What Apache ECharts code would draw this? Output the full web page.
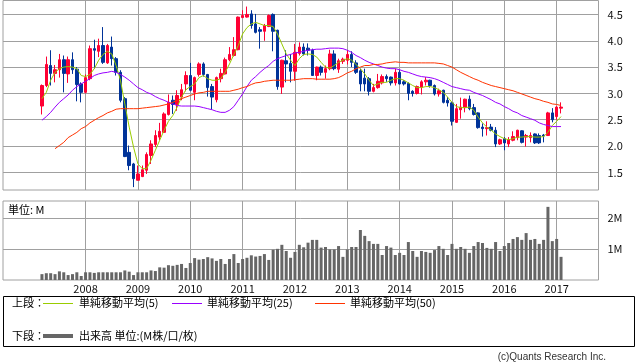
<!DOCTYPE html>
<html><head><meta charset="utf-8">
<script src="https://cdn.jsdelivr.net/npm/echarts@6/dist/echarts.min.js"></script>
<style>html,body{margin:0;padding:0;background:#fff}#c{width:638px;height:362px}</style>
</head><body><div id="c"></div>
<script>
// Monthly candles, Mar 2007 .. Feb 2017
const open = [2.76,3.15,3.53,3.38,3.45,3.64,3.37,3.64,3.46,3.18,3.02,3.28,3.85,3.80,3.91,3.58,3.88,3.66,3.40,2.90,
1.88,1.66,1.35,1.42,1.54,1.82,2.03,2.17,2.26,2.60,2.87,2.79,2.93,3.18,3.34,3.02,3.36,3.56,3.36,3.13,
2.88,3.28,3.37,3.64,3.72,3.83,4.44,4.45,4.51,4.32,4.21,4.18,4.27,4.50,4.20,3.12,3.62,3.57,3.42,3.76,
3.88,3.86,3.82,3.34,3.50,3.40,3.47,3.75,3.46,3.61,3.63,3.74,3.58,3.43,3.29,3.28,3.04,3.11,3.20,3.32,
3.31,3.20,3.40,3.22,3.19,3.04,3.00,3.12,3.22,3.25,3.15,2.99,3.06,2.87,2.82,2.45,2.69,2.73,2.89,2.73,
2.63,2.36,2.33,2.36,2.30,2.04,2.14,2.04,2.11,2.16,2.29,2.17,2.16,2.23,2.20,2.21,2.20,2.63,2.56,2.72];
const close = [3.15,3.55,3.38,3.45,3.64,3.38,3.64,3.45,3.17,3.02,3.30,3.85,3.82,3.91,3.59,3.91,3.66,3.40,2.87,1.80,
1.63,1.38,1.47,1.55,1.84,2.04,2.20,2.28,2.61,2.83,2.79,2.96,3.07,3.34,3.06,3.30,3.56,3.36,3.11,2.93,
3.30,3.38,3.64,3.74,3.83,4.45,4.48,4.50,4.29,4.16,4.18,4.29,4.48,4.18,3.13,3.63,3.56,3.42,3.78,3.88,
3.75,3.82,3.34,3.50,3.40,3.47,3.75,3.47,3.62,3.65,3.74,3.59,3.40,3.18,3.18,3.04,3.11,3.23,3.32,3.28,
3.20,3.40,3.18,3.18,3.00,3.00,3.13,3.22,3.25,3.15,2.99,3.05,2.83,2.82,2.47,2.71,2.74,2.89,2.71,2.60,
2.35,2.33,2.35,2.30,2.04,2.12,2.06,2.12,2.18,2.30,2.07,2.20,2.20,2.06,2.06,2.19,2.63,2.50,2.74,2.74];
const low = [2.60,3.12,3.15,3.21,3.30,3.02,3.20,3.37,2.85,2.83,3.00,3.25,3.47,3.69,3.56,3.56,3.53,3.34,2.83,1.79,
1.54,1.22,1.35,1.41,1.47,1.66,1.98,2.11,2.25,2.58,2.61,2.67,2.87,3.04,3.04,2.87,3.32,3.32,2.94,2.69,
2.83,3.21,3.36,3.61,3.70,3.82,4.44,4.44,4.23,4.14,3.85,4.00,4.26,3.80,3.07,2.99,3.21,3.21,3.24,3.72,
3.72,3.72,3.34,3.25,3.34,3.28,3.44,3.44,3.39,3.56,3.55,3.50,3.37,3.04,3.04,2.96,3.02,3.09,3.17,3.22,
3.15,3.15,3.17,3.15,2.87,2.94,2.98,2.98,3.15,3.11,2.96,2.94,2.81,2.75,2.39,2.44,2.52,2.64,2.68,2.58,
2.33,2.18,2.20,2.28,1.98,2.02,1.92,1.98,2.09,2.11,2.05,1.99,2.07,2.04,2.04,2.07,2.19,2.45,2.50,2.62];
const high = [3.17,3.70,3.82,3.54,3.75,3.72,3.70,3.78,3.50,3.21,3.36,3.91,4.02,4.04,4.26,3.94,4.08,3.69,3.44,2.93,
2.01,1.68,1.63,1.63,1.88,2.11,2.30,2.44,2.64,2.98,2.96,3.06,3.18,3.42,3.58,3.32,3.59,3.59,3.37,3.18,
3.32,3.47,3.68,3.88,4.07,4.46,4.58,4.65,4.58,4.51,4.26,4.32,4.50,4.52,4.21,3.64,3.82,3.75,3.94,3.97,
3.95,3.95,3.85,3.51,3.53,3.53,3.83,3.82,3.66,3.68,3.82,3.80,3.63,3.47,3.47,3.31,3.18,3.37,3.36,3.36,
3.32,3.47,3.45,3.25,3.21,3.06,3.15,3.25,3.31,3.26,3.17,3.09,3.07,2.93,2.84,2.80,2.92,2.90,2.96,2.80,
2.64,2.43,2.47,2.42,2.36,2.14,2.17,2.17,2.28,2.31,2.30,2.23,2.26,2.24,2.24,2.23,2.65,2.72,2.76,2.83];
const volume = [0.19,0.22,0.22,0.19,0.28,0.25,0.16,0.19,0.25,0.13,0.25,0.25,0.23,0.25,0.25,0.25,0.25,0.25,0.25,0.31,
0.27,0.16,0.25,0.25,0.25,0.31,0.29,0.41,0.40,0.48,0.46,0.49,0.52,0.39,0.55,0.71,0.66,0.68,0.74,0.70,
0.62,0.68,0.52,0.68,0.84,0.55,0.68,0.72,0.80,0.76,0.78,0.84,0.65,0.98,1.01,1.14,0.94,0.72,0.91,1.14,
1.06,1.21,1.30,1.30,1.05,1.07,0.99,0.99,1.10,0.75,0.99,1.07,1.07,1.62,1.43,1.26,1.17,1.17,0.81,1.10,
1.05,0.81,0.88,0.81,1.23,0.94,0.75,0.94,0.91,0.88,0.97,1.10,1.01,0.81,1.17,1.01,1.07,1.01,0.88,1.10,
1.23,1.20,1.04,1.01,1.23,0.94,1.10,1.20,1.33,1.39,1.30,1.52,1.30,1.33,1.17,1.30,2.37,1.26,1.33,0.75];
const ma5 = [2.90,3.02,3.25,3.40,3.47,3.50,3.51,3.50,3.47,3.34,3.32,3.36,3.47,3.63,3.74,3.80,3.75,3.53,3.25,2.80,
2.36,1.98,1.66,1.57,1.57,1.73,1.92,2.11,2.30,2.47,2.58,2.74,2.93,3.07,3.13,3.18,3.30,3.34,3.28,3.25,
3.25,3.28,3.40,3.56,3.74,3.91,4.13,4.25,4.32,4.35,4.32,4.29,4.29,4.27,4.13,3.94,3.75,3.63,3.53,3.66,
3.74,3.75,3.74,3.69,3.59,3.50,3.48,3.53,3.59,3.63,3.66,3.63,3.55,3.47,3.37,3.25,3.15,3.18,3.21,3.21,
3.25,3.28,3.28,3.25,3.20,3.15,3.11,3.11,3.13,3.13,3.11,3.07,3.02,2.93,2.83,2.75,2.73,2.73,2.74,2.68,
2.55,2.44,2.36,2.30,2.23,2.18,2.14,2.12,2.14,2.17,2.17,2.18,2.18,2.17,2.17,2.18,2.26,2.39,2.47,2.56];
const ma25 = [2.49,2.56,2.64,2.74,2.83,2.90,2.97,3.06,3.13,3.18,3.23,3.28,3.34,3.37,3.39,3.40,3.42,3.40,3.36,3.31,
3.25,3.18,3.11,3.07,3.02,2.99,2.94,2.90,2.87,2.83,2.80,2.77,2.76,2.76,2.76,2.76,2.75,2.73,2.71,2.69,
2.66,2.64,2.64,2.68,2.75,2.87,2.99,3.13,3.25,3.32,3.40,3.47,3.53,3.61,3.66,3.69,3.72,3.74,3.77,3.78,
3.80,3.82,3.83,3.84,3.84,3.85,3.86,3.86,3.86,3.85,3.82,3.78,3.72,3.68,3.63,3.59,3.56,3.53,3.50,3.48,
3.47,3.47,3.45,3.42,3.40,3.37,3.34,3.32,3.31,3.30,3.28,3.25,3.21,3.17,3.13,3.11,3.09,3.07,3.06,3.02,
2.99,2.96,2.92,2.88,2.83,2.80,2.75,2.71,2.66,2.63,2.58,2.55,2.52,2.49,2.44,2.41,2.39,2.37,2.37,2.37];
const ma50 = [null,null,null,1.95,2.01,2.07,2.16,2.21,2.26,2.33,2.37,2.44,2.49,2.54,2.58,2.63,2.66,2.70,2.71,2.71,
2.71,2.71,2.71,2.72,2.73,2.74,2.75,2.76,2.78,2.80,2.83,2.87,2.90,2.93,2.96,2.99,3.01,3.02,3.04,3.04,
3.04,3.04,3.04,3.04,3.06,3.08,3.11,3.13,3.17,3.20,3.21,3.23,3.24,3.25,3.25,3.25,3.25,3.25,3.26,3.27,
3.28,3.28,3.28,3.27,3.27,3.27,3.27,3.28,3.30,3.34,3.39,3.42,3.47,3.50,3.53,3.53,3.55,3.55,3.56,3.58,
3.59,3.60,3.59,3.59,3.58,3.58,3.58,3.58,3.58,3.58,3.58,3.57,3.56,3.53,3.50,3.45,3.40,3.36,3.32,3.28,
3.25,3.21,3.18,3.15,3.13,3.11,3.09,3.07,3.05,3.02,2.99,2.96,2.93,2.90,2.88,2.85,2.83,2.80,2.79,2.77];
const yearLabels = ['2008','2009','2010','2011','2012','2013','2014','2015','2016','2017'];
const priceTicks = [1.5,2.0,2.5,3.0,3.5,4.0,4.5];
const volumeTicks = [1,2];

const months = [];
for (let i = 0; i < open.length; i++) {
  const m = 2 + i; // first candle: 2007-03
  months.push((2007 + Math.floor(m / 12)) + '-' + String(m % 12 + 1).padStart(2, '0'));
}
const yearIdx = yearLabels.map(y => months.indexOf(y + '-01'));

const candles = months.map((_, i) => [i, open[i], close[i], low[i], high[i]]);
const pairs = arr => arr.map((v, i) => [i, v]).filter(p => p[1] != null);

const FONT = '"Noto Sans CJK JP", "Liberation Sans", sans-serif';
const GRID_C = '#a0a0a0';
const XMIN = -8.93, XMAX = 127.59;

const xCommon = {
  type: 'value', min: XMIN, max: XMAX,
  axisLine: {show: false},
  axisTick: {show: false, customValues: yearIdx},
  splitLine: {show: true, lineStyle: {color: GRID_C, width: 1}}
};

const chart = echarts.init(document.getElementById('c'), null, {renderer: 'canvas'});
chart.setOption({
  animation: false,
  backgroundColor: '#fff',
  grid: [
    {left: 3, right: 39.5, top: 0.5, height: 189.5, show: true, borderColor: GRID_C, borderWidth: 1},
    {left: 3, right: 39.5, top: 201, height: 79, show: true, borderColor: GRID_C, borderWidth: 1}
  ],
  xAxis: [
    Object.assign({gridIndex: 0, axisLabel: {show: false}}, xCommon),
    Object.assign({gridIndex: 1, axisLabel: {show: true, customValues: yearIdx, margin: 3,
      color: '#111', fontSize: 11, fontFamily: FONT,
      formatter: v => yearLabels[yearIdx.indexOf(Math.round(v))]}}, xCommon)
  ],
  yAxis: [
    {gridIndex: 0, type: 'value', position: 'right', min: 1.165, max: 4.765,
      axisLine: {show: false}, axisTick: {show: false, customValues: priceTicks},
      axisLabel: {customValues: priceTicks, margin: 9, color: '#111', fontSize: 11, fontFamily: FONT,
        formatter: v => v.toFixed(1)},
      splitLine: {show: true, lineStyle: {color: GRID_C, width: 1}}},
    {gridIndex: 1, type: 'value', position: 'right', min: 0, max: 2.56,
      axisLine: {show: false}, axisTick: {show: false, customValues: volumeTicks},
      axisLabel: {customValues: volumeTicks, margin: 9, color: '#111', fontSize: 11, fontFamily: FONT,
        formatter: v => v + 'M'},
      splitLine: {show: true, lineStyle: {color: GRID_C, width: 1}}}
  ],
  series: [
    {type: 'candlestick', xAxisIndex: 0, yAxisIndex: 0, data: candles, barWidth: 3,
      itemStyle: {color: '#ff0033', color0: '#003399', borderColor: '#ff0033', borderColor0: '#003399', borderWidth: 1}},
    {type: 'line', xAxisIndex: 0, yAxisIndex: 0, data: pairs(ma5), showSymbol: false, symbol: 'none',
      lineStyle: {color: '#99cc00', width: 1}},
    {type: 'line', xAxisIndex: 0, yAxisIndex: 0, data: pairs(ma25), showSymbol: false, symbol: 'none',
      lineStyle: {color: '#9900ff', width: 1}},
    {type: 'line', xAxisIndex: 0, yAxisIndex: 0, data: pairs(ma50), showSymbol: false, symbol: 'none',
      lineStyle: {color: '#ff3300', width: 1}},
    {type: 'bar', xAxisIndex: 1, yAxisIndex: 1, data: pairs(volume), barWidth: 3,
      itemStyle: {color: '#666666'}}
  ],
  graphic: [
    {type: 'text', x: 8, y: 210, style: {text: '単位: M', fill: '#000', font: '11px ' + FONT, verticalAlign: 'middle'}},
    {type: 'rect', shape: {x: 3.5, y: 296.5, width: 631, height: 50}, style: {fill: 'none', stroke: '#000', lineWidth: 1}},
    {type: 'text', x: 12, y: 303, style: {text: '上段：', fill: '#000', font: '11px ' + FONT, verticalAlign: 'middle'}},
    {type: 'line', shape: {x1: 43, y1: 303.5, x2: 73, y2: 303.5}, style: {stroke: '#99cc00', lineWidth: 1}},
    {type: 'text', x: 79, y: 303, style: {text: '単純移動平均(5)', fill: '#000', font: '11px ' + FONT, verticalAlign: 'middle'}},
    {type: 'line', shape: {x1: 172, y1: 303.5, x2: 202, y2: 303.5}, style: {stroke: '#9900ff', lineWidth: 1}},
    {type: 'text', x: 207, y: 303, style: {text: '単純移動平均(25)', fill: '#000', font: '11px ' + FONT, verticalAlign: 'middle'}},
    {type: 'line', shape: {x1: 315, y1: 303.5, x2: 345, y2: 303.5}, style: {stroke: '#ff3300', lineWidth: 1}},
    {type: 'text', x: 350, y: 303, style: {text: '単純移動平均(50)', fill: '#000', font: '11px ' + FONT, verticalAlign: 'middle'}},
    {type: 'text', x: 12, y: 336, style: {text: '下段：', fill: '#000', font: '11px ' + FONT, verticalAlign: 'middle'}},
    {type: 'line', shape: {x1: 43, y1: 336, x2: 73, y2: 336}, style: {stroke: '#666666', lineWidth: 4}},
    {type: 'text', x: 79, y: 336, style: {text: '出来高 単位:(M株/口/枚)', fill: '#000', font: '11px ' + FONT, verticalAlign: 'middle'}},
    {type: 'text', x: 606, y: 357, style: {text: '(c)Quants Research Inc.', align: 'right', fill: '#333', font: '10px "Liberation Sans", sans-serif', verticalAlign: 'middle'}}
  ]
});
</script></body></html>
